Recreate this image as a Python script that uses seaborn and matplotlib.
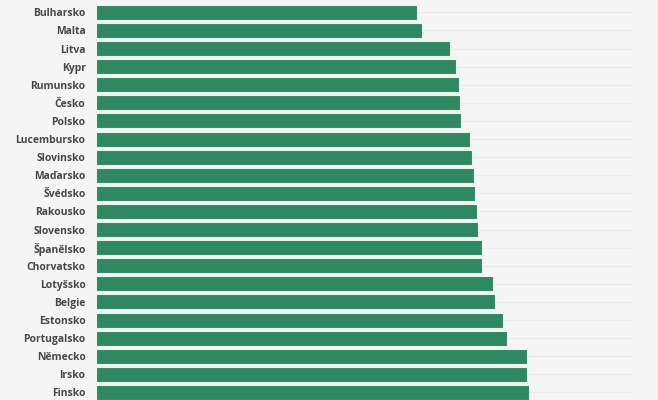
import matplotlib
matplotlib.use("Agg")
import matplotlib.pyplot as plt
import seaborn as sns
import pandas as pd

# values (relative bar lengths, axis max = 100)
countries = ["Bulharsko", "Malta", "Litva", "Kypr", "Rumunsko", "Česko", "Polsko",
             "Lucembursko", "Slovinsko", "Maďarsko", "Švédsko", "Rakousko", "Slovensko",
             "Španělsko", "Chorvatsko", "Lotyšsko", "Belgie", "Estonsko", "Portugalsko",
             "Německo", "Irsko", "Finsko"]
values = [59.8, 60.8, 66.0, 67.1, 67.7, 67.9, 68.1,
          69.8, 70.1, 70.5, 70.7, 71.1, 71.2,
          72.0, 72.0, 74.1, 74.4, 75.9, 76.7,
          80.4, 80.4, 80.8]

df = pd.DataFrame({"country": countries, "value": values})

sns.set_style("white")
plt.rcParams["font.family"] = ["Open Sans", "DejaVu Sans"]

bg = "#f5f5f5"
fig = plt.figure(figsize=(6.58, 4.00), dpi=100, facecolor=bg)
ax = fig.add_axes([96 / 658, -0.00375, (632 - 96) / 658, 0.9956])
ax.set_facecolor(bg)

sns.barplot(data=df, x="value", y="country", orient="h", color="#2e8862",
            saturation=1, width=0.83, edgecolor="#eaf3ee", linewidth=0.8, ax=ax, zorder=2)

ax.set_xlim(0, 100)
ax.set_ylim(len(countries) - 0.5, -0.5)
ax.grid(axis="y", color="#e9e9e9", linewidth=0.8, zorder=0)
ax.set_axisbelow(True)
for s in ax.spines.values():
    s.set_visible(False)
ax.set_xticks([])
ax.set_xlabel("")
ax.set_ylabel("")
ax.tick_params(axis="y", length=0, pad=7.5)
for lbl in ax.get_yticklabels():
    lbl.set_fontsize(7.5)
    lbl.set_fontweight("bold")
    lbl.set_color("#474747")

fig.savefig("out.png", dpi=100, facecolor=bg)
